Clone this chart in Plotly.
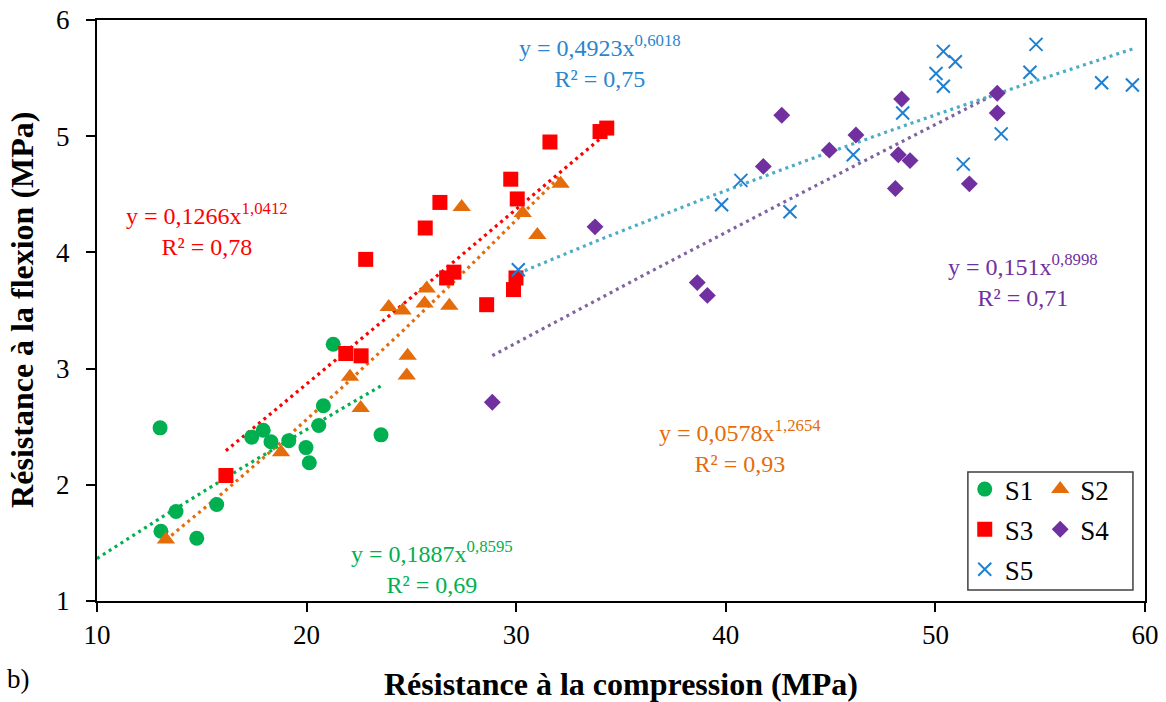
import numpy as np
import plotly.graph_objects as go

# ---- data ----
s1_x = [13.01, 13.05, 13.77, 14.76, 15.71, 17.38, 17.93, 18.30, 19.15, 19.97, 20.13, 20.58, 20.80, 21.27, 23.55]
s1_y = [2.49, 1.60, 1.77, 1.54, 1.83, 2.41, 2.47, 2.37, 2.38, 2.32, 2.19, 2.51, 2.68, 3.21, 2.43]

s2_x = [13.29, 18.78, 22.07, 22.58, 23.92, 24.58, 24.78, 24.82, 25.63, 25.73, 26.81, 27.40, 30.31, 31.01, 32.12]
s2_y = [1.53, 2.28, 2.93, 2.66, 3.53, 3.50, 2.94, 3.11, 3.56, 3.69, 3.54, 4.39, 4.34, 4.15, 4.59]

s3_x = [16.15, 21.87, 22.60, 22.82, 25.66, 26.36, 26.68, 27.03, 28.59, 29.74, 29.87, 29.99, 30.05, 31.61, 34.00, 34.32]
s3_y = [2.08, 3.13, 3.11, 3.94, 4.21, 4.43, 3.78, 3.83, 3.55, 4.63, 3.68, 3.78, 4.46, 4.95, 5.04, 5.07]

s4_x = [28.86, 33.76, 38.64, 39.12, 41.79, 42.67, 44.94, 46.21, 48.09, 48.23, 48.39, 48.79, 51.62, 52.95, 52.95]
s4_y = [2.71, 4.22, 3.74, 3.63, 4.74, 5.18, 4.88, 5.01, 4.55, 4.84, 5.32, 4.79, 4.59, 5.37, 5.20]

s5_x = [30.10, 39.80, 40.72, 43.06, 46.08, 48.44, 50.03, 50.38, 50.38, 50.95, 51.33, 53.14, 54.51, 54.80, 57.93, 59.40]
s5_y = [3.85, 4.41, 4.62, 4.35, 4.84, 5.20, 5.54, 5.73, 5.43, 5.64, 4.76, 5.02, 5.55, 5.79, 5.46, 5.44]

series_names = ["S1", "S2", "S3", "S4", "S5"]
# power-law trend coefficients y = a * x^b, as printed on the chart
fit_a = [0.1887, 0.0578, 0.1266, 0.151, 0.4923]
fit_b = [0.8595, 1.2654, 1.0412, 0.8998, 0.6018]
fit_r2 = ["0,69", "0,93", "0,78", "0,71", "0,75"]
fit_a_txt = ["0,1887", "0,0578", "0,1266", "0,151", "0,4923"]
fit_b_txt = ["0,8595", "1,2654", "1,0412", "0,8998", "0,6018"]
fit_xstart = [10.0, None, None, None, None]

x_ticks = [10, 20, 30, 40, 50, 60]
y_ticks = [1, 2, 3, 4, 5, 6]

# ---- styles ----
xs = [s1_x, s2_x, s3_x, s4_x, s5_x]
ys = [s1_y, s2_y, s3_y, s4_y, s5_y]
mcolors = ["#00B050", "#E46C0A", "#FF0000", "#7030A0", "#1F7FD0"]
lcolors = ["#00B050", "#E46C0A", "#FF0000", "#8064A2", "#4BACC6"]
tcolors = ["#00B050", "#E46C0A", "#FF0000", "#7030A0", "#2A86CF"]
symbols = ["circle", "triangle-up", "square", "diamond", "x-thin"]
sizes = [15, 16, 15, 13, 13]
legends = ["legend", "legend2", "legend", "legend2", "legend"]
FONT = "Liberation Serif"

fig = go.Figure()

# trend lines
for i in range(5):
    x0 = fit_xstart[i] if fit_xstart[i] is not None else min(xs[i])
    xx = np.linspace(x0, max(xs[i]), 120)
    yy = fit_a[i] * xx ** fit_b[i]
    fig.add_trace(go.Scatter(x=xx, y=yy, mode="lines", showlegend=False, hoverinfo="skip",
                             line=dict(color=lcolors[i], width=3.2, dash="3px,4px")))

# markers
for i in range(5):
    if symbols[i] == "x-thin":
        mk = dict(symbol="x-thin", size=sizes[i], line=dict(color=mcolors[i], width=2), color=mcolors[i])
    else:
        mk = dict(symbol=symbols[i], size=sizes[i], color=mcolors[i], line=dict(width=0))
    fig.add_trace(go.Scatter(x=xs[i], y=ys[i], mode="markers", name=series_names[i],
                             marker=mk, legend=legends[i], legendgroup=series_names[i]))

# equation annotations (positions in data coords: centre x, top y)
eq_pos = [(26.0, 1.57), (40.7, 2.61), (15.25, 4.48), (54.2, 4.04), (34.0, 5.92)]
for i in range(5):
    ex, ey = eq_pos[i]
    fig.add_annotation(x=ex, y=ey, xref="x", yref="y", showarrow=False, yanchor="top",
                       text=f"y = {fit_a_txt[i]}x<sup>{fit_b_txt[i]}</sup><br>R² = {fit_r2[i]}",
                       font=dict(family=FONT, size=24, color=tcolors[i]), align="center")

fig.add_annotation(x=-0.088, y=-0.135, xref="paper", yref="paper", showarrow=False,
                   text="b)", font=dict(family=FONT, size=27, color="black"),
                   xanchor="left", yanchor="middle")

# y axis title as rotated annotation
fig.add_annotation(x=-0.0716, y=0.501, xref="paper", yref="paper", showarrow=False,
                   text="<b>Résistance à la flexion (MPa)</b>", textangle=-90,
                   font=dict(family=FONT, size=32, color="black"),
                   xanchor="center", yanchor="middle")

# legend box
fig.add_shape(type="rect", xref="paper", yref="paper", x0=0.831, x1=0.9885, y0=0.019, y1=0.222,
              line=dict(color="#404040", width=1.5), fillcolor="rgba(0,0,0,0)")

axis_common = dict(showline=True, linecolor="black", linewidth=2, mirror=True, ticks="outside",
                   ticklen=9, tickwidth=1.5, tickcolor="black", showgrid=False, zeroline=False,
                   automargin=False,
                   tickfont=dict(family=FONT, size=27, color="black"))

fig.update_layout(
    width=1166, height=702,
    margin=dict(l=97, r=21, t=20, b=101),
    paper_bgcolor="white", plot_bgcolor="white",
    xaxis=dict(range=[10, 60], tickvals=x_ticks,
               title=dict(text="<b>Résistance à la compression (MPa)</b>",
                          font=dict(family=FONT, size=32, color="black"), standoff=24),
               **axis_common),
    yaxis=dict(range=[1, 6], tickvals=y_ticks, ticklabelstandoff=11,
               **axis_common),
    legend=dict(x=0.828, y=0.234, xanchor="left", yanchor="top", bgcolor="rgba(0,0,0,0)",
                font=dict(family=FONT, size=27, color="black"), tracegroupgap=2,
                traceorder="grouped", itemwidth=30),
    legend2=dict(x=0.900, y=0.234, xanchor="left", yanchor="top", bgcolor="rgba(0,0,0,0)",
                 font=dict(family=FONT, size=27, color="black"), tracegroupgap=2,
                 traceorder="grouped", itemwidth=30),
    showlegend=True,
)

fig.write_html("out.html")
